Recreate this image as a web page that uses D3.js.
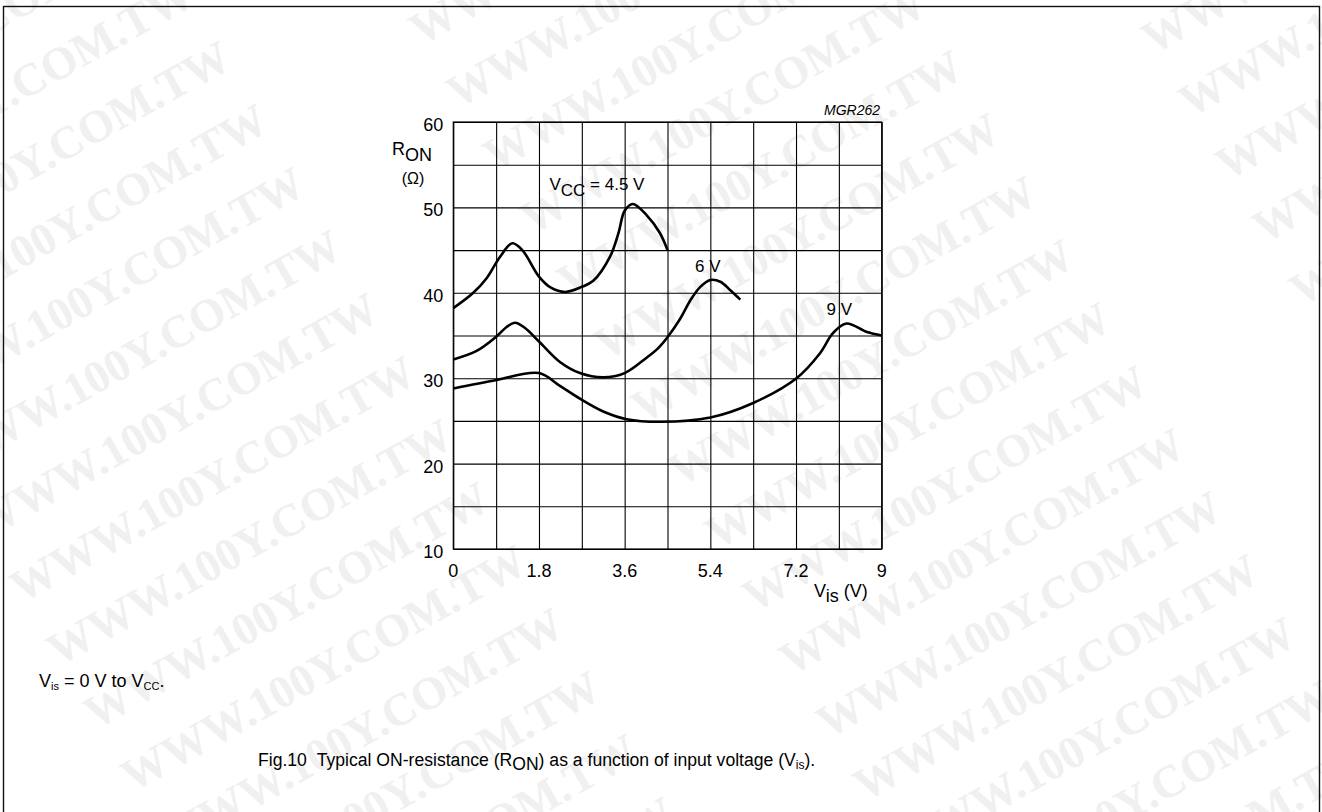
<!DOCTYPE html>
<html>
<head>
<meta charset="utf-8">
<script src="https://cdn.jsdelivr.net/npm/d3@7"></script>
<style>
  body { margin: 0; background: #fff; }
  svg { display: block; font-family: "Liberation Sans", Arial, sans-serif; }
</style>
</head>
<body>
<svg id="chart" width="1322" height="812"></svg>
<script>
// R_ON (ohm) vs V_is (V)
var vcc45 = [[0, 38.2], [0.42, 40.0], [0.7, 41.7], [0.98, 44.2], [1.24, 45.8], [1.45, 45.0],
             [1.8, 41.9], [2.05, 40.6], [2.35, 40.1], [2.7, 40.7], [2.94, 41.4], [3.29, 44.2],
             [3.47, 47.0], [3.6, 49.6], [3.77, 50.4], [4.06, 49.1], [4.34, 47.0], [4.5, 45.0]];
var vcc6 = [[0, 32.2], [0.49, 33.2], [0.91, 34.9], [1.12, 36.0], [1.3, 36.5], [1.5, 35.9],
            [1.8, 34.3], [2.24, 31.9], [2.66, 30.6], [3.15, 30.1], [3.6, 30.6], [4.06, 32.4],
            [4.3, 33.5], [4.5, 34.8], [4.76, 36.9], [5.0, 39.3], [5.19, 40.7], [5.4, 41.5],
            [5.61, 41.3], [5.82, 40.3], [6.03, 39.2]];
var vcc9 = [[0, 28.8], [0.91, 29.8], [1.8, 30.6], [2.24, 29.1], [2.66, 27.6], [3.15, 26.1],
            [3.64, 25.2], [4.37, 24.9], [5.4, 25.4], [6.3, 27.1], [7.21, 30.0], [7.7, 32.9],
            [7.98, 35.3], [8.26, 36.4], [8.69, 35.4], [9, 35.0]];
var series = [vcc45, vcc6, vcc9];
var curveLabels = [{main: "V", sub: "CC", rest: " = 4.5 V"}, {main: "6 V"}, {main: "9 V"}];

var xTicks = [0, 1.8, 3.6, 5.4, 7.2, 9];
var xTickLabels = ["0", "1.8", "3.6", "5.4", "7.2", "9"];
var yTicks = [10, 20, 30, 40, 50, 60];
var xGrid = d3.range(0, 9.01, 0.9);
var yGrid = d3.range(10, 60.1, 5);

var svg = d3.select("#chart");

// faint watermark tiled over the page
var wm = svg.append("g").attr("fill", "#f0f0f0")
    .style("font-family", "'Liberation Serif', 'Times New Roman', serif")
    .style("font-weight", "bold").style("font-size", "46px");
var ang = -29.2 * Math.PI / 180;
for (var k = -16; k <= 16; k++) {
    for (var j = -4; j <= 4; j++) {
        var wx = 1190 + k * 37 + j * 627 * Math.cos(ang);
        var wy = 118 + k * 63 + j * 627 * Math.sin(ang);
        if (wx < -700 || wx > 1400 || wy < -100 || wy > 1100) continue;
        wm.append("text")
            .attr("transform", "translate(" + wx + "," + wy + ") rotate(-29.2)")
            .text("WWW.100Y.COM.TW");
    }
}

// page border
svg.append("rect").attr("x", 3.5).attr("y", 6.5).attr("width", 1316).attr("height", 820)
    .attr("fill", "none").attr("stroke", "#111").attr("stroke-width", 1.4);

var plotL = 453.3, plotT = 122, plotW = 428.4, plotH = 427;
var x = d3.scaleLinear().domain([0, 9]).range([plotL, plotL + plotW]);
var y = d3.scaleLinear().domain([10, 60]).range([plotT + plotH, plotT]);

var g = svg.append("g");

g.append("g").attr("transform", "translate(0," + (plotT + plotH) + ")")
    .call(d3.axisBottom(x).tickValues(xGrid).tickSize(-plotH).tickFormat(""))
    .call(function(a) { a.select(".domain").remove(); })
    .selectAll("line").attr("stroke", "#000").attr("stroke-width", 1.1);

g.append("g").attr("transform", "translate(" + plotL + ",0)")
    .call(d3.axisLeft(y).tickValues(yGrid).tickSize(-plotW).tickFormat(""))
    .call(function(a) { a.select(".domain").remove(); })
    .selectAll("line").attr("stroke", "#000").attr("stroke-width", 1.1);

g.append("rect").attr("x", plotL).attr("y", plotT).attr("width", plotW).attr("height", plotH)
    .attr("fill", "none").attr("stroke", "#000").attr("stroke-width", 1.2);

// tick labels
g.selectAll(".xl").data(xTicks).enter().append("text")
    .attr("x", function(d) { return x(d); }).attr("y", plotT + plotH + 28)
    .attr("text-anchor", "middle").style("font-size", "18px")
    .text(function(d, i) { return xTickLabels[i]; });

g.selectAll(".yl").data(yTicks).enter().append("text")
    .attr("x", plotL - 10).attr("y", function(d) { return y(d) + 9; })
    .attr("text-anchor", "end").style("font-size", "18px")
    .text(function(d) { return d; });

// axis titles
var rl = g.append("text").attr("x", 392).attr("y", 155).style("font-size", "18px");
rl.append("tspan").text("R");
rl.append("tspan").attr("dy", 6).text("ON");
g.append("text").attr("x", 413).attr("y", 184).attr("text-anchor", "middle")
    .style("font-size", "16px").text("(\u03A9)");

var xl = g.append("text").attr("x", 814).attr("y", 597).style("font-size", "18px");
xl.append("tspan").text("V");
xl.append("tspan").attr("dy", 5).text("is");
xl.append("tspan").attr("dy", -5).text(" (V)");

g.append("text").attr("x", 880).attr("y", 115).attr("text-anchor", "end")
    .style("font-size", "14px").style("font-style", "italic").text("MGR262");

// curves
var line = d3.line().x(function(d) { return x(d[0]); }).y(function(d) { return y(d[1]); })
    .curve(d3.curveCatmullRom.alpha(0.5));

g.selectAll(".curve").data(series).enter().append("path")
    .attr("d", line).attr("fill", "none").attr("stroke", "#000")
    .attr("stroke-width", 2.6).attr("stroke-linejoin", "round");

// curve labels
var labelAt = [[2.02, 52.0], [5.08, 42.4], [7.84, 37.4]];
curveLabels.forEach(function(l, i) {
    var t = g.append("text").attr("x", x(labelAt[i][0])).attr("y", y(labelAt[i][1]))
        .style("font-size", "17px");
    t.append("tspan").text(l.main);
    if (l.sub) {
        t.append("tspan").attr("dy", 6).text(l.sub);
        t.append("tspan").attr("dy", -6).text(l.rest);
    }
});

// notes under the chart
var n1 = svg.append("text").attr("x", 39).attr("y", 687).style("font-size", "18px");
n1.append("tspan").text("V");
n1.append("tspan").attr("dy", 3).style("font-size", "11px").text("is");
n1.append("tspan").attr("dy", -3).text(" = 0 V to V");
n1.append("tspan").attr("dy", 3).style("font-size", "11px").text("CC");
n1.append("tspan").attr("dy", -3).text(".");

var cap = svg.append("text").attr("x", 258).attr("y", 766).style("font-size", "17.6px");
cap.append("tspan").text("Fig.10\u00A0\u00A0Typical ON-resistance (R");
cap.append("tspan").attr("dy", 4).text("ON");
cap.append("tspan").attr("dy", -4).text(") as a function of input voltage (V");
cap.append("tspan").attr("dy", 3).style("font-size", "12px").text("is");
cap.append("tspan").attr("dy", -3).text(").");
</script>
</body>
</html>
